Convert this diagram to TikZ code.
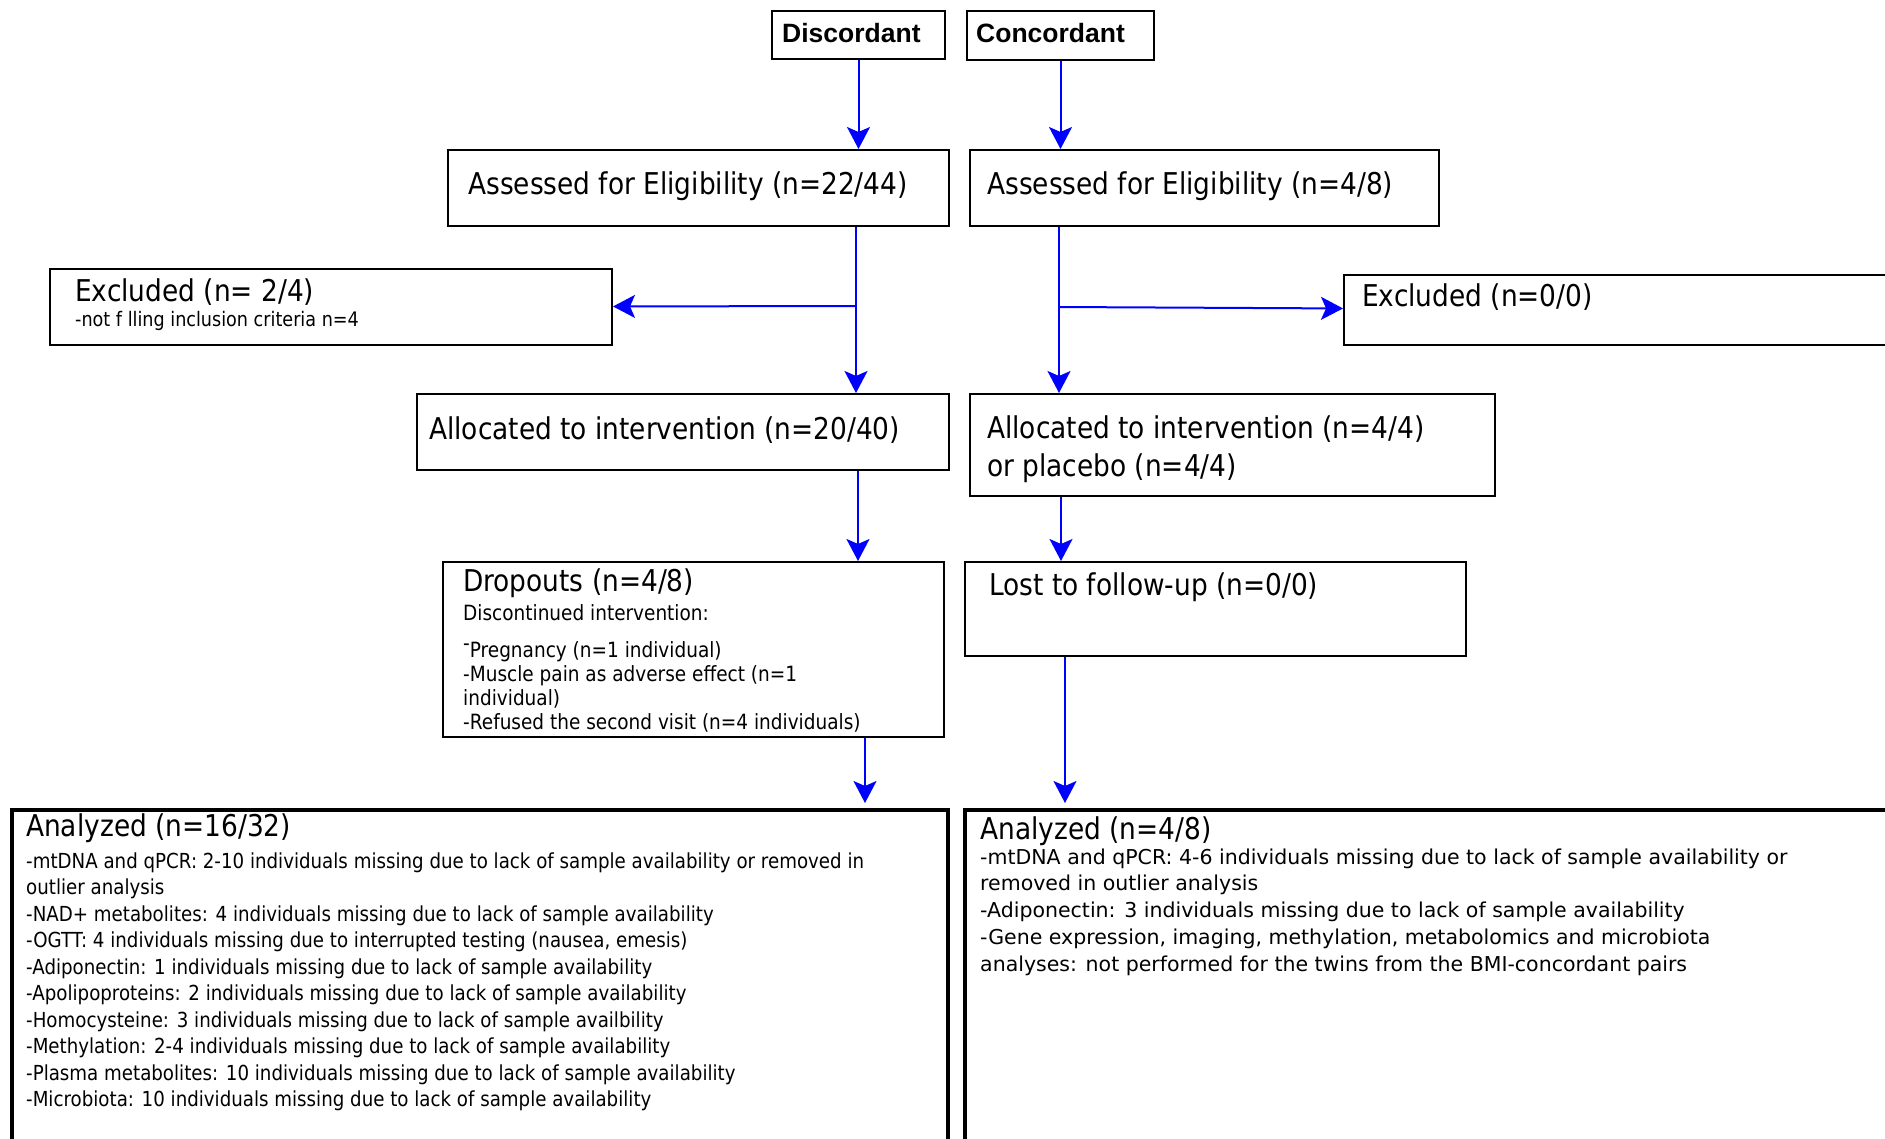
\documentclass[tikz,border=0pt]{standalone}
\usepackage{fontspec}
\setmainfont{DejaVu Sans}
\newfontfamily\condfont[FakeStretch=0.88]{DejaVu Sans}
\newfontfamily\tagfont{Liberation Sans}
\usetikzlibrary{arrows.meta}

\begin{document}
\begin{tikzpicture}[x=1pt,y=-1pt]
    \tikzstyle{box} = [draw,line width=2pt,anchor=north west,inner sep=0pt]
    \tikzstyle{bigbox} = [box,line width=3.5pt]
    \tikzstyle{tag} = [anchor=west,inner sep=0pt,font=\tagfont\bfseries\fontsize{26.5}{30}\selectfont]
    \tikzstyle{head} = [anchor=west,inner sep=0pt,align=left,font=\condfont\fontsize{30}{38}\selectfont]
    \tikzstyle{body} = [anchor=west,inner sep=0pt,align=left]
    \tikzstyle{arr} = [-{Stealth[length=22pt,width=23pt,inset=5pt]},blue,line width=2pt]
        \useasboundingbox (0,0) rectangle (1885,1138);
        \clip (0,0) rectangle (1885,1138);
        % top row
        \node[box,minimum width=173pt,minimum height=48pt] (disc) at (771,10) {};
        \node[box,minimum width=187pt,minimum height=49pt] (conc) at (966,10) {};
        \node[tag] (disctxt) at (782,33) {Discordant};
        \node[tag] (conctxt) at (976,33) {Concordant};
        % eligibility
        \node[box,minimum width=501pt,minimum height=76pt] (assessL) at (447,149) {};
        \node[box,minimum width=469pt,minimum height=76pt] (assessR) at (969,149) {};
        \node[head] (assessLtxt) at (468,186) {Assessed for Eligibility (n=22/44)};
        \node[head] (assessRtxt) at (987,186) {Assessed for Eligibility (n=4/8)};
        % excluded
        \node[box,minimum width=562pt,minimum height=76pt] (exclL) at (49,268) {};
        \node[box,minimum width=600pt,minimum height=70pt] (exclR) at (1343,274) {};
        \node[head] (exclLtxt) at (75,292) {Excluded (n= 2/4)};
        \node[body,font=\condfont\fontsize{20}{24}\selectfont] (exclLsub) at (75,321) {-not f lling inclusion criteria n=4};
        \node[head] (exclRtxt) at (1362,297) {Excluded (n=0/0)};
        % allocation
        \node[box,minimum width=532pt,minimum height=76pt] (allocL) at (416,393) {};
        \node[box,minimum width=525pt,minimum height=102pt] (allocR) at (969,393) {};
        \node[head] (allocLtxt) at (429,430) {Allocated to intervention (n=20/40)};
        \node[head] (allocRtxt) at (987,449) {Allocated to intervention (n=4/4)\\or placebo (n=4/4)};
        % follow-up
        \node[box,minimum width=501pt,minimum height=175pt] (drop) at (442,561) {};
        \node[box,minimum width=501pt,minimum height=94pt] (lost) at (964,561) {};
        \node[head] (droptxt) at (463,583) {Dropouts (n=4/8)};
        \node[body,font=\condfont\fontsize{21}{24}\selectfont] (dropsub) at (463,668) {Discontinued intervention:\\[13pt]
            \raisebox{0.3em}{-}Pregnancy (n=1 individual)\\
            -Muscle pain as adverse effect (n=1\\
            individual)\\
            -Refused the second visit (n=4 individuals)};
        \node[head] (losttxt) at (989,587) {Lost to follow-up (n=0/0)};
        % analysis
        \node[bigbox,minimum width=936pt,minimum height=400pt] (anaL) at (10,808) {};
        \node[bigbox,minimum width=950pt,minimum height=400pt] (anaR) at (963,808) {};
        \node[head] (anaLtxt) at (26,828) {Analyzed (n=16/32)};
        \node[body,font=\condfont\fontsize{20.7}{26.5}\selectfont] (anaLsub) at (26,982) {-mtDNA and qPCR: 2-10 individuals missing due to lack of sample availability or removed in\\
            outlier analysis\\
            -NAD+ metabolites: 4 individuals missing due to lack of sample availability\\
            -OGTT: 4 individuals missing due to interrupted testing (nausea, emesis)\\
            -Adiponectin: 1 individuals missing due to lack of sample availability\\
            -Apolipoproteins: 2 individuals missing due to lack of sample availability\\
            -Homocysteine: 3 individuals missing due to lack of sample availbility\\
            -Methylation: 2-4 individuals missing due to lack of sample availability\\
            -Plasma metabolites: 10 individuals missing due to lack of sample availability\\
            -Microbiota: 10 individuals missing due to lack of sample availability};
        \node[head] (anaRtxt) at (980,831) {Analyzed (n=4/8)};
        \node[body,font=\fontsize{20.5}{26.8}\selectfont] (anaRsub) at (980,912) {-mtDNA and qPCR: 4-6 individuals missing due to lack of sample availability or\\
            removed in outlier analysis\\
            -Adiponectin: 3 individuals missing due to lack of sample availability\\
            -Gene expression, imaging, methylation, metabolomics and microbiota\\
            analyses: not performed for the twins from the BMI-concordant pairs};
        % arrows
        \coordinate (brL) at (856,306);
        \coordinate (brR) at (1059,307);
        \coordinate (dL) at (858,0);
        \coordinate (dR) at (1061,0);
        \coordinate (eL) at (865,0);
        \coordinate (eR) at (1065,0);
        \draw[arr] (disc) -- (disc |- assessL.north);
        \draw[arr] (conc) -- (conc |- assessR.north);
        \draw[arr] (brL |- assessL.south) -- (brL |- allocL.north);
        \draw[arr] (brL) -- (exclL);
        \draw[arr] (brR |- assessR.south) -- (brR |- allocR.north);
        \draw[arr] (brR) -- (exclR);
        \draw[arr] (dL |- allocL.south) -- (dL |- drop.north);
        \draw[arr] (dR |- allocR.south) -- (dR |- lost.north);
        \draw[arr,shorten >=5pt] (eL |- drop.south) -- (eL |- anaL.north);
        \draw[arr,shorten >=5pt] (eR |- lost.south) -- (eR |- anaR.north);
    \end{tikzpicture}
\end{document}
